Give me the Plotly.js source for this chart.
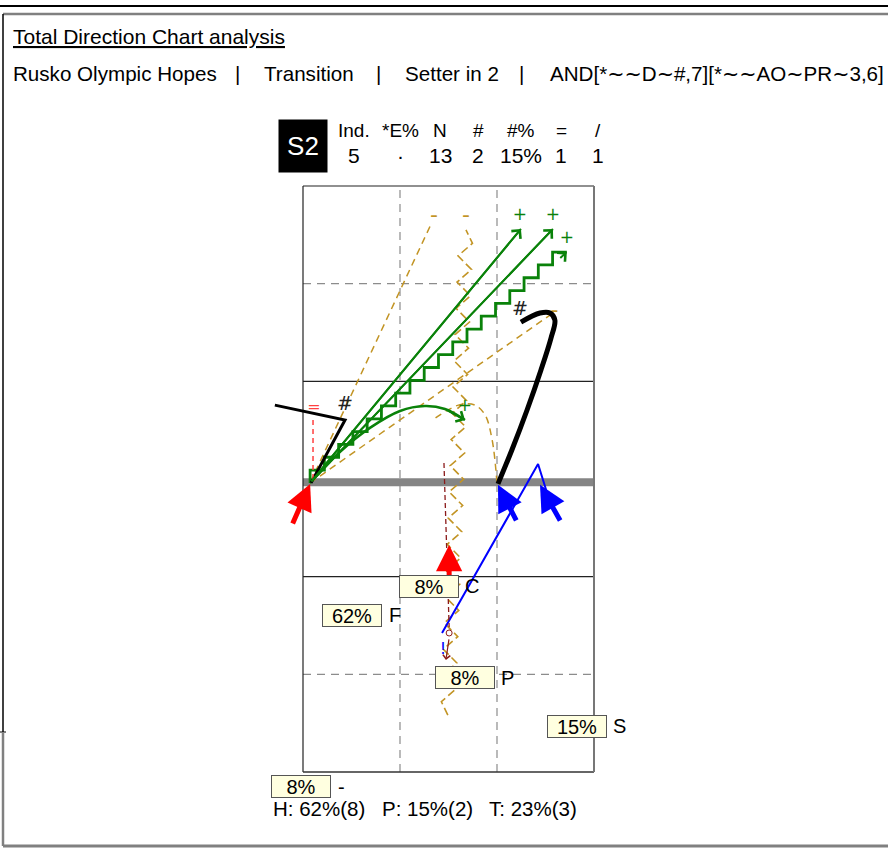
<!DOCTYPE html>
<html><head><meta charset="utf-8">
<script src="https://cdn.plot.ly/plotly-3.0.1.min.js"></script>
<style>html,body{margin:0;padding:0;background:#fff}#chart{width:888px;height:855px}</style>
</head><body><div id="chart"></div>
<script>
// ---------------- DATA (court metres: x 0..9 left->right, y 0..18 bottom->top) ----------------
const titleText = 'Total Direction Chart analysis';
const subtitleParts = ['Rusko Olympic Hopes', 'Transition', 'Setter in 2', 'AND[*~~D~#,7][*~~AO~PR~3,6]'];
const rotationLabel = 'S2';
const statHeaders = ['Ind.', '*E%', 'N', '#', '#%', '=', '/'];
const statValues  = ['5', '·', '13', '2', '15%', '1', '1'];
const footerParts = ['H: 62%(8)', 'P: 15%(2)', 'T: 23%(3)'];

// zone percentage labels
const zonePct   = ['8%', '62%', '8%', '15%', '8%'];
const zoneName  = ['C', 'F', 'P', 'S', '-'];
const zoneBoxX  = [3.90, 1.52, 5.01, 8.47, -0.06];
const zoneBoxY  = [5.71, 4.81, 2.90, 1.41, -0.46];
const zoneNameX = [4.95, 2.60, 6.06, 9.53, 1.02];

// attack start arrows (tail -> head)
const startTailX = [-0.34, 4.52, 6.62, 7.98];
const startTailY = [7.59, 5.99, 7.68, 7.68];
const startHeadX = [0.22, 4.52, 6.03, 7.33];
const startHeadY = [8.85, 6.97, 8.82, 8.82];
const startColor = ['#FF0000', '#FF0000', '#0000FF', '#0000FF'];

// green '+' attacks
const greenLine1X = [0.22, 6.74], greenLine1Y = [8.88, 16.68];
const greenLine2X = [0.22, 7.73], greenLine2Y = [8.88, 16.68];
const greenStepX  = [0.22, 8.16], greenStepY  = [8.88, 15.97];
const greenCurveX = [0.22, 1.14, 2.07, 3.00, 3.77, 4.39, 5.01];
const greenCurveY = [8.88, 9.83, 10.57, 11.09, 11.24, 11.15, 10.81];
const greenSymX = [6.71, 7.73, 8.16, 5.01];
const greenSymY = [17.08, 17.08, 16.37, 11.21];

// black '#' attacks
const blackLineX  = [-0.87, 1.30, 0.25];
const blackLineY  = [11.27, 10.81, 8.88];
const blackCurveX = [6.03, 6.46, 6.93, 7.36, 7.67, 7.79, 7.64, 7.33, 6.74];
const blackCurveY = [8.85, 9.89, 11.12, 12.35, 13.33, 13.88, 14.10, 14.10, 13.82];
const blackSymX = [1.30, 6.71];
const blackSymY = [11.27, 14.19];

// goldenrod '-' attacks
const gold1X = [0.22, 3.99], gold1Y = [8.88, 16.89];
const gold2X = [0.22, 7.73], gold2Y = [8.88, 14.10];
const goldZigX = [4.48, 5.04], goldZigY = [1.75, 16.65];
const goldArcX = [6.00, 5.85, 5.63, 5.32, 4.92, 4.48, 4.05];
const goldArcY = [8.88, 10.20, 10.97, 11.27, 11.30, 11.12, 10.84];
const goldSymX = [4.05, 5.04, 7.78];
const goldSymY = [17.05, 17.05, 14.15];

// blue '!' attack
const blueLineX = [7.52, 7.27, 4.30];
const blueLineY = [8.66, 9.46, 4.27];
const blueSymX = [4.33], blueSymY = [3.75];

// red '=' attack
const redLineX = [0.31, 0.31], redLineY = [10.81, 8.88];
const redSymX = [0.34], redSymY = [11.18];

// dark red '/' attack
const darkLineX = [4.36, 4.52], darkLineY = [9.49, 4.45];
const darkDotX = [4.52], darkDotY = [4.27];
const darkTailX = [4.52], darkTailY = [4.12], darkHeadX = [4.42], darkHeadY = [3.44];

// ---------------- LAYOUT / STYLE ----------------
const W = 888, H = 855;
const PX = 291 / 9, PY = 586 / 18;      // pixels per metre
const CX = 303, CY = 772;               // court bottom-left corner on page
const FONT = 'Liberation Sans, Arial, sans-serif';
const px2x = p => p / W, py2y = p => 1 - p / H;

function stairs(xs, ys, stepPx) {       // stepped stroke decoration between two points
  const ax = xs[0] * PX, ay = ys[0] * PY, bx = xs[1] * PX, by = ys[1] * PY;
  const n = Math.max(1, Math.round(Math.hypot(bx - ax, by - ay) / stepPx));
  const dx = (bx - ax) / n, dy = (by - ay) / n;
  const ox = [xs[0]], oy = [ys[0]];
  let cx = ax, cy = ay;
  for (let i = 0; i < n; i++) {
    cy += dy; ox.push(cx / PX); oy.push(cy / PY);
    cx += dx; ox.push(cx / PX); oy.push(cy / PY);
  }
  return [ox, oy];
}
function zigzag(xs, ys, segPx, ampPx) { // zig-zag stroke decoration between two points
  const ax = xs[0] * PX, ay = ys[0] * PY, bx = xs[1] * PX, by = ys[1] * PY;
  const L = Math.hypot(bx - ax, by - ay), n = Math.max(2, Math.round(L / segPx));
  const ux = (bx - ax) / L, uy = (by - ay) / L, nx = -uy, ny = ux;
  const ox = [], oy = [];
  for (let i = 0; i <= n; i++) {
    const t = i / n, off = (i === 0 || i === n) ? 0 : (i % 2 ? ampPx : -ampPx);
    ox.push((ax + (bx - ax) * t + nx * off) / PX);
    oy.push((ay + (by - ay) * t + ny * off) / PY);
  }
  return [ox, oy];
}

const GOLD = '#C29424', GREEN = '#0A820A';
const traces = [];
function line(x, y, color, width, dash, shape) {
  traces.push({x, y, type: 'scatter', mode: 'lines', hoverinfo: 'skip', showlegend: false,
    line: {color, width, dash: dash || 'solid', shape: shape || 'linear', smoothing: 1}});
}
function sym(x, y, s, color, size, style) {
  traces.push({x, y, type: 'scatter', mode: 'text', text: x.map(() => s), hoverinfo: 'skip', showlegend: false,
    textposition: 'middle center', cliponaxis: false,
    textfont: {color, size, family: 'DejaVu Sans, sans-serif', style: style || 'normal'}});
}

// goldenrod
line(gold1X, gold1Y, GOLD, 1.5, '7px,5px');
line(gold2X, gold2Y, GOLD, 1.5, '7px,5px');
const gz = zigzag(goldZigX, goldZigY, 13, 7);
line(gz[0], gz[1], GOLD, 1.6, '8px,4px');
line(goldArcX, goldArcY, GOLD, 1.5, '7px,5px', 'spline');
sym(goldSymX, goldSymY, '-', GOLD, 22);
// green
line(greenLine1X, greenLine1Y, GREEN, 2);
line(greenLine2X, greenLine2Y, GREEN, 2);
const gs = stairs(greenStepX, greenStepY, 19);
line(gs[0], gs[1], GREEN, 2.8);
line(greenCurveX, greenCurveY, GREEN, 2.5, 'solid', 'spline');
sym(greenSymX, greenSymY, '+', GREEN, 17);
// black
line(blackLineX, blackLineY, '#000', 3);
line(blackCurveX, blackCurveY, '#000', 5, 'solid', 'spline');
sym(blackSymX, blackSymY, '#', '#222', 19, 'italic');
// blue
line(blueLineX, blueLineY, '#0000FF', 2);
sym(blueSymX, blueSymY, '!', '#0000FF', 16);
// red
line(redLineX, redLineY, '#FF4040', 1.5, '5px,4px');
sym(redSymX, redSymY, '=', '#FF4040', 16);
// dark red
line(darkLineX, darkLineY, '#8B1A1A', 1.3, '5px,3px');
traces.push({x: darkDotX, y: darkDotY, type: 'scatter', mode: 'markers', hoverinfo: 'skip', showlegend: false,
  marker: {symbol: 'circle-open', size: 6, color: '#8B1A1A', line: {width: 1}}});

// annotations
const ann = [];
// start arrows
startHeadX.forEach((hx, i) => ann.push({x: hx, y: startHeadY[i], ax: startTailX[i], ay: startTailY[i],
  xref: 'x', yref: 'y', axref: 'x', ayref: 'y', text: '', showarrow: true,
  arrowhead: 2, arrowsize: 1.05, arrowwidth: 5, arrowcolor: startColor[i], standoff: 0}));
// arrowheads at the end of attack lines
function head(xs, ys, color, w, size, hd) {
  const n = xs.length;
  ann.push({x: xs[n - 1], y: ys[n - 1], ax: xs[n - 2], ay: ys[n - 2], xref: 'x', yref: 'y', axref: 'x', ayref: 'y',
    text: '', showarrow: true, arrowhead: hd || 4, arrowsize: size, arrowwidth: w, arrowcolor: color, standoff: 0});
}
head(greenLine1X, greenLine1Y, GREEN, 2, 1.15);
head(greenLine2X, greenLine2Y, GREEN, 2, 1.15);
head([greenStepX[1] - 0.25, greenStepX[1]], [greenStepY[1] - 0.22, greenStepY[1]], GREEN, 2, 1.15);
head([greenCurveX[5], greenCurveX[6]], [greenCurveY[5], greenCurveY[6]], GREEN, 2, 1.15);
head([darkTailX[0], darkHeadX[0]], [darkTailY[0], darkHeadY[0]], '#8B1A1A', 1.2, 1.2);

// zone labels
zonePct.forEach((t, i) => {
  ann.push({x: zoneBoxX[i], y: zoneBoxY[i], xref: 'x', yref: 'y', text: t, showarrow: false,
    xanchor: 'center', yanchor: 'middle', width: 56, height: 19, borderpad: 1, borderwidth: 1,
    bordercolor: '#555', bgcolor: '#FFFFE0', font: {family: FONT, size: 20, color: '#000'}});
  ann.push({x: zoneNameX[i], y: zoneBoxY[i], xref: 'x', yref: 'y', text: zoneName[i], showarrow: false,
    xanchor: 'left', yanchor: 'middle', font: {family: FONT, size: 20, color: '#000'}});
});

// header texts
ann.push({x: px2x(11), y: py2y(37), xref: 'paper', yref: 'paper', xanchor: 'left', yanchor: 'middle', showarrow: false,
  text: '<u>' + titleText + '</u>', font: {family: FONT, size: 21, color: '#000'}});
const wide = s => s.replace(/~/g, '<span style="font-family:DejaVu Sans">~</span>');
const subX = [11, 262, 403, 548], pipeX = [237, 378, 521];
subtitleParts.forEach((t, i) => ann.push({x: px2x(subX[i]), y: py2y(74), xref: 'paper', yref: 'paper',
  xanchor: 'left', yanchor: 'middle', showarrow: false, text: wide(t), font: {family: FONT, size: 20.6, color: '#000'}}));
pipeX.forEach(p => ann.push({x: px2x(p), y: py2y(74), xref: 'paper', yref: 'paper', xanchor: 'center',
  yanchor: 'middle', showarrow: false, text: '|', font: {family: FONT, size: 20.5, color: '#000'}}));
ann.push({x: px2x(303), y: py2y(146), xref: 'paper', yref: 'paper', xanchor: 'center', yanchor: 'middle',
  showarrow: false, text: rotationLabel, width: 46, height: 50, bgcolor: '#000', borderpad: 1,
  font: {family: FONT, size: 26, color: '#fff'}});
const statX = [354, 400, 440, 478, 521, 561, 598];
statHeaders.forEach((t, i) => {
  ann.push({x: px2x(statX[i]), y: py2y(131), xref: 'paper', yref: 'paper', xanchor: 'center', yanchor: 'middle',
    showarrow: false, text: t, font: {family: FONT, size: 19, color: '#000'}});
  ann.push({x: px2x(statX[i]), y: py2y(155), xref: 'paper', yref: 'paper', xanchor: 'center', yanchor: 'middle',
    showarrow: false, text: statValues[i], font: {family: FONT, size: 21, color: '#000'}});
});
const footX = [271, 380, 487];
footerParts.forEach((t, i) => ann.push({x: px2x(footX[i]), y: py2y(808), xref: 'paper', yref: 'paper',
  xanchor: 'left', yanchor: 'middle', showarrow: false, text: t, font: {family: FONT, size: 20.5, color: '#000'}}));

// shapes: page frame + court
const shapes = [];
function pline(x0, y0, x1, y1, color, width) {
  shapes.push({type: 'line', xref: 'paper', yref: 'paper', x0: px2x(x0), y0: py2y(y0), x1: px2x(x1), y1: py2y(y1),
    line: {color, width}});
}
pline(0, 6, 888, 6, '#000', 2);
pline(3, 14, 888, 14, '#808080', 2.5);
pline(3, 14, 3, 732, '#000', 1.5);
pline(0, 732, 6, 732, '#000', 1);
pline(3, 732, 3, 846, '#808080', 2.5);
pline(3, 846, 888, 846, '#808080', 3);
function cline(x0, y0, x1, y1, color, width, dash) {
  shapes.push({type: 'line', xref: 'x', yref: 'y', x0, y0, x1, y1, layer: 'below',
    line: {color, width, dash: dash || 'solid'}});
}
[3, 6].forEach(v => cline(v, 0, v, 18, '#8c8c8c', 1.2, '8px,6px'));
[3, 15].forEach(v => cline(0, v, 9, v, '#8c8c8c', 1.2, '8px,6px'));
[6, 12].forEach(v => cline(0, v, 9, v, '#222', 1.2));
cline(0, 8.9, 9, 8.9, '#858585', 8);
cline(0, 0, 0, 18, '#222', 1.2);
cline(0, 18, 9, 18, '#222', 1.2);
cline(0, 0, 9, 0, '#333', 1.5);
cline(9, 0, 9, 18, '#777', 2);

const layout = {
  width: W, height: H, margin: {l: 0, r: 0, t: 0, b: 0}, paper_bgcolor: '#fff', plot_bgcolor: 'rgba(0,0,0,0)',
  xaxis: {range: [-CX / PX, (W - CX) / PX], visible: false, fixedrange: true},
  yaxis: {range: [-(H - CY) / PY, CY / PY], visible: false, fixedrange: true},
  showlegend: false, shapes, annotations: ann
};
Plotly.newPlot('chart', traces, layout, {staticPlot: true, displayModeBar: false});
</script></body></html>
